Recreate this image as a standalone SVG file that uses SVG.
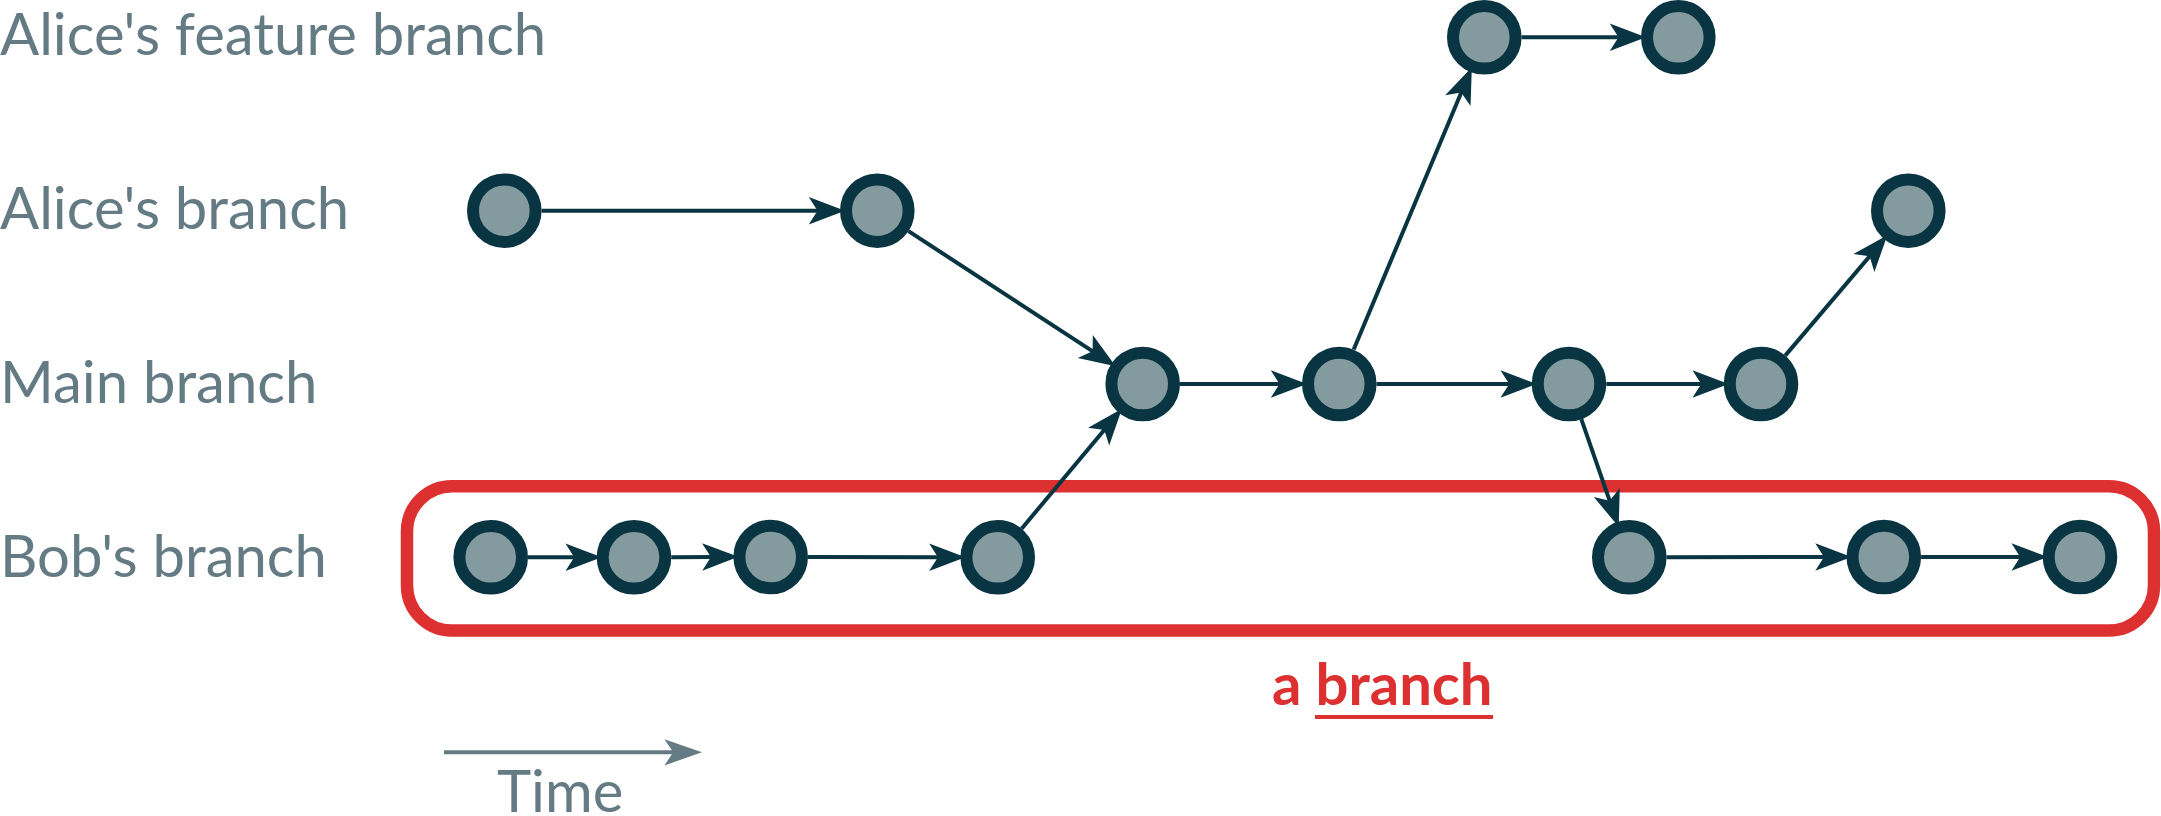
<svg xmlns="http://www.w3.org/2000/svg" width="2161" height="816" viewBox="0 0 2161 816">
<style>
.lbl{font-family:Lato,"Liberation Sans",sans-serif;font-size:58px;fill:#657b84}
.node{fill:#839a9e;stroke:#093542;stroke-width:12}
.conn{stroke:#093542;stroke-width:4;fill:none;marker-end:url(#ah)}
.red{font-family:Lato,"Liberation Sans",sans-serif;font-size:58px;font-weight:bold;fill:#dd3131}
</style>
<defs>
<marker id="ah" markerUnits="userSpaceOnUse" markerWidth="40" markerHeight="30" refX="0" refY="0" orient="auto" overflow="visible" viewBox="-10 -12 32 24">
<path d="M20,0 L-9,-11 L-2,0 L-9,11 Z" fill="#093542"/>
</marker>
<marker id="ahg" markerUnits="userSpaceOnUse" markerWidth="40" markerHeight="30" refX="0" refY="0" orient="auto" overflow="visible" viewBox="-10 -12 32 24">
<path d="M21,0 L-9,-10.5 L-2,0 L-9,10.5 Z" fill="#657b84"/>
</marker>
</defs>
<g id="labels">
<text class="lbl" x="0" y="55">Alice's feature branch</text>
<text class="lbl" x="0" y="229">Alice's branch</text>
<text class="lbl" x="0" y="402.5">Main branch</text>
<text class="lbl" x="0" y="577">Bob's branch</text>
</g>
<g id="branch-box">
<rect x="407" y="486.3" width="1747" height="144.2" rx="45" ry="45" fill="none" stroke="#dd3131" stroke-width="12.5"/>
<text class="red" x="1272" y="705">a branch</text>
<line x1="1315" y1="717" x2="1493" y2="717" stroke="#dd3131" stroke-width="4"/>
</g>
<g id="time">
<line x1="444" y1="752.3" x2="675.7" y2="752.3" stroke="#657b84" stroke-width="4" marker-end="url(#ahg)"/>
<text class="lbl" x="497" y="812">Time</text>
</g>
<g id="connectors">
<line class="conn" x1="541.6" y1="210.7" x2="820" y2="210.7"/>
<line class="conn" x1="908.5" y1="231.1" x2="1094.7" y2="352.7"/>
<line class="conn" x1="1180" y1="384" x2="1282" y2="384"/>
<line class="conn" x1="1353.7" y1="349.6" x2="1462.2" y2="90.2"/>
<line class="conn" x1="1521.6" y1="37.3" x2="1621" y2="37.3"/>
<line class="conn" x1="1376.6" y1="384" x2="1511.7" y2="384"/>
<line class="conn" x1="1606.3" y1="384" x2="1703.7" y2="384"/>
<line class="conn" x1="1785.2" y1="355.6" x2="1871.2" y2="254.4"/>
<line class="conn" x1="1581.3" y1="419.2" x2="1610.5" y2="503.2"/>
<line class="conn" x1="1666.6" y1="557.2" x2="1826.5" y2="557"/>
<line class="conn" x1="1921.1" y1="557" x2="2022.7" y2="557"/>
<line class="conn" x1="528" y1="557.3" x2="576.7" y2="557.3"/>
<line class="conn" x1="671.3" y1="557.3" x2="713.4" y2="557"/>
<line class="conn" x1="808" y1="557" x2="940.4" y2="557.3"/>
<line class="conn" x1="1021.6" y1="528.7" x2="1105.9" y2="428"/>
</g>
<g id="nodes">
<g id="feature-1"><circle class="node" cx="1484.3" cy="37.3" r="31.3"/></g>
<g id="feature-2"><circle class="node" cx="1678.3" cy="37.3" r="31.3"/></g>
<g id="alice-1"><circle class="node" cx="504.3" cy="210.7" r="31.3"/></g>
<g id="alice-2"><circle class="node" cx="877.3" cy="210.7" r="31.3"/></g>
<g id="alice-3"><circle class="node" cx="1908.3" cy="210.7" r="31.3"/></g>
<g id="main-1"><circle class="node" cx="1142.7" cy="384" r="31.3"/></g>
<g id="main-2"><circle class="node" cx="1339.3" cy="384" r="31.3"/></g>
<g id="main-3"><circle class="node" cx="1569" cy="384" r="31.3"/></g>
<g id="main-4"><circle class="node" cx="1761" cy="384" r="31.3"/></g>
<g id="bob-1"><circle class="node" cx="490.7" cy="557.3" r="31.3"/></g>
<g id="bob-2"><circle class="node" cx="634" cy="557.3" r="31.3"/></g>
<g id="bob-3"><circle class="node" cx="770.7" cy="557" r="31.3"/></g>
<g id="bob-4"><circle class="node" cx="997.7" cy="557.3" r="31.3"/></g>
<g id="bob-5"><circle class="node" cx="1629.3" cy="557.3" r="31.3"/></g>
<g id="bob-6"><circle class="node" cx="1883.8" cy="557" r="31.3"/></g>
<g id="bob-7"><circle class="node" cx="2080" cy="557" r="31.3"/></g>
</g>
</svg>
